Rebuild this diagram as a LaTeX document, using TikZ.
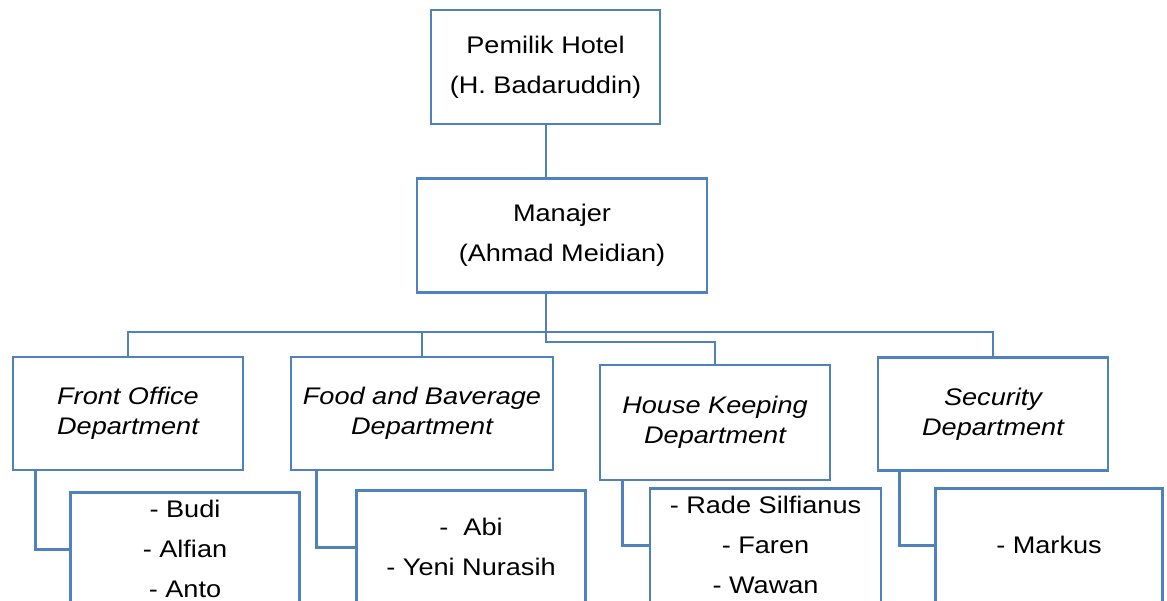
\documentclass[tikz,border=0pt]{standalone}
\usepackage{fontspec}
\setmainfont{Liberation Sans}[FakeStretch=1.13]
\definecolor{garis}{RGB}{79,129,189}

\begin{document}
\begin{tikzpicture}[x=1pt, y=-1pt,
        every node/.style = {shape=rectangle, draw=garis, line width=2.7pt,
                             align=center, text=black},
        jabatan/.style = {minimum width=229pt, minimum height=114pt,
                          font=\fontsize{24}{40}\selectfont},
        bagian/.style = {minimum width=230pt, minimum height=113pt,
                         font=\fontsize{24}{30}\selectfont\itshape},
        staf/.style = {anchor=north, minimum width=229pt, minimum height=114pt,
                       font=\fontsize{24}{40}\selectfont},
        hubung/.style = {draw=garis, line width=2.7pt}]
    \useasboundingbox (0,0) rectangle (1167,601);
    \clip (0,0) rectangle (1167,601);

    \node[jabatan] (pemilik) at (545.5,67) {Pemilik Hotel\\(H. Badaruddin)};
    \node[jabatan, minimum width=290pt] (manajer) at (562,235.5) {Manajer\\(Ahmad Meidian)};

    \node[bagian] (fo) at (128,413.5) {Front Office\\Department};
    \node[bagian, minimum width=262pt] (fb) at (422,413.5) {Food and Baverage\\Department};
    \node[bagian, minimum height=115pt] (hk) at (715,422.5) {House Keeping\\Department};
    \node[bagian] (sec) at (993,414) {Security\\Department};

    \node[staf] (fostaf) at (185,491) {- Budi\\- Alfian\\- Anto};
    \node[staf] (fbstaf) at (471,489) {-~~Abi\\- Yeni Nurasih};
    \node[staf, minimum width=231pt] (hkstaf) at (765.5,487) {- Rade Silfianus\\- Faren\\- Wawan};
    \node[staf, minimum width=227pt] (secstaf) at (1049,487) {- Markus};

    \coordinate (bus) at (546,332);
    \coordinate (bus2) at (546,342);

    \draw[hubung] (pemilik.south -| bus) -- (manajer.north -| bus);
    \draw[hubung] (manajer.south -| bus) -- (bus2) -| (hk.north);
    \draw[hubung] (fo.north) |- (bus) -| (sec.north);
    \draw[hubung] (fb.north) -- (fb.north |- bus);

    \draw[hubung] ([xshift=24pt]fo.south west) |- (fostaf.west);
    \draw[hubung] ([xshift=27pt]fb.south west) |- (fbstaf.west);
    \draw[hubung] ([xshift=24pt]hk.south west) |- (hkstaf.west);
    \draw[hubung] ([xshift=23pt]sec.south west) |- (secstaf.west);
\end{tikzpicture}
\end{document}
